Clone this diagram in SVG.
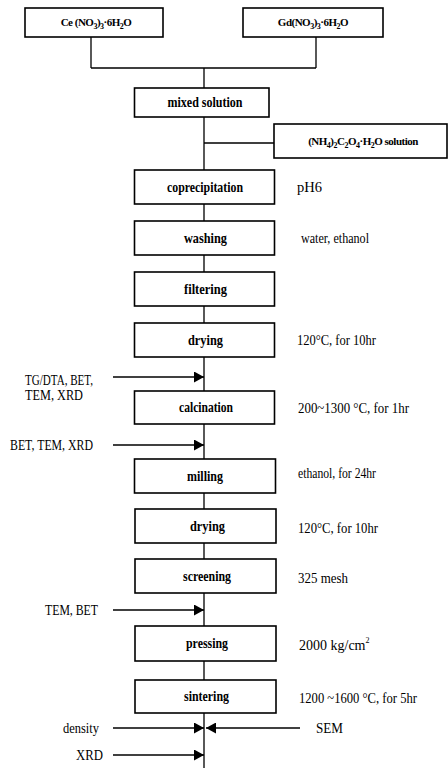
<svg xmlns="http://www.w3.org/2000/svg" width="448" height="768" viewBox="0 0 448 768">
<defs>
<style>
.box{fill:#fff;stroke:#000;stroke-width:1.6}
.ln{fill:none;stroke:#000;stroke-width:1.3}
.bt{font-family:"Liberation Serif",serif;font-weight:bold;font-size:14px;text-anchor:middle;fill:#000}
.ft{font-family:"Liberation Serif",serif;font-weight:bold;font-size:11px;text-anchor:middle;fill:#000;letter-spacing:-0.5px}
.st{font-family:"Liberation Serif",serif;font-size:14px;fill:#000}
.sb{font-size:8px}
</style>
<marker id="ah" markerUnits="userSpaceOnUse" markerWidth="10" markerHeight="11" refX="10" refY="5.5" orient="auto">
<path d="M0,0 L10,5.5 L0,11 Z" fill="#000"/>
</marker>
</defs>
<rect width="448" height="768" fill="#fff"/>
<g id="connectors">
<path class="ln" d="M91,37 V68 M316,37 V68 M91,68 H316 M204,68 V88"/>
<path class="ln" d="M204,117 V170 M204,143 H274"/>
<path class="ln" d="M204,204 V221 M204,255 V272 M204,306 V323 M204,357 V391 M204,424 V459 M204,493 V509 M204,543 V559 M204,593 V626 M204,661 V680 M204,713 V768"/>
<line class="ln" x1="113" y1="377" x2="204" y2="377" marker-end="url(#ah)"/>
<line class="ln" x1="113" y1="445" x2="204" y2="445" marker-end="url(#ah)"/>
<line class="ln" x1="113" y1="610" x2="204" y2="610" marker-end="url(#ah)"/>
<line class="ln" x1="113" y1="728" x2="204" y2="728" marker-end="url(#ah)"/>
<line class="ln" x1="300" y1="728" x2="206" y2="728" marker-end="url(#ah)"/>
<line class="ln" x1="113" y1="755" x2="204" y2="755" marker-end="url(#ah)"/>
</g>
<g id="ce">
<rect class="box" x="25" y="8" width="138" height="29"/>
<text class="ft" x="96" y="26">Ce (NO<tspan class="sb" baseline-shift="-3">3</tspan>)<tspan class="sb" baseline-shift="-3">3</tspan>·6H<tspan class="sb" baseline-shift="-3">2</tspan>O</text>
</g>
<g id="gd">
<rect class="box" x="243" y="8" width="140" height="29"/>
<text class="ft" x="313" y="26">Gd(NO<tspan class="sb" baseline-shift="-3">3</tspan>)<tspan class="sb" baseline-shift="-3">3</tspan>·6H<tspan class="sb" baseline-shift="-3">2</tspan>O</text>
</g>
<g id="mixed">
<rect class="box" x="134.5" y="88" width="134.5" height="29"/>
<text class="bt" x="205" y="107" textLength="75" lengthAdjust="spacingAndGlyphs">mixed solution</text>
</g>
<g id="oxalate">
<rect class="box" x="274" y="124" width="173" height="34"/>
<text class="ft" x="363" y="145">(NH<tspan class="sb" baseline-shift="-3">4</tspan>)<tspan class="sb" baseline-shift="-3">2</tspan>C<tspan class="sb" baseline-shift="-3">2</tspan>O<tspan class="sb" baseline-shift="-3">4</tspan>·H<tspan class="sb" baseline-shift="-3">2</tspan>O solution</text>
</g>
<g id="coprecipitation">
<rect class="box" x="134.5" y="170" width="140" height="34"/>
<text class="bt" x="205" y="192" textLength="76" lengthAdjust="spacingAndGlyphs">coprecipitation</text>
<text class="st" x="297" y="192" textLength="25" lengthAdjust="spacingAndGlyphs">pH6</text>
</g>
<g id="washing">
<rect class="box" x="134.5" y="221" width="140" height="34"/>
<text class="bt" x="205.5" y="243" textLength="43" lengthAdjust="spacingAndGlyphs">washing</text>
<text class="st" x="301" y="243" textLength="68" lengthAdjust="spacingAndGlyphs">water, ethanol</text>
</g>
<g id="filtering">
<rect class="box" x="134.5" y="272" width="140" height="34"/>
<text class="bt" x="205.5" y="294" textLength="43" lengthAdjust="spacingAndGlyphs">filtering</text>
</g>
<g id="drying1">
<rect class="box" x="134.5" y="323" width="140" height="34"/>
<text class="bt" x="205.5" y="345" textLength="35" lengthAdjust="spacingAndGlyphs">drying</text>
<text class="st" x="297" y="345" textLength="79" lengthAdjust="spacingAndGlyphs">120°C, for 10hr</text>
</g>
<g id="tg">
<text class="st" x="25" y="385" textLength="68" lengthAdjust="spacingAndGlyphs">TG/DTA, BET,</text>
<text class="st" x="25" y="400" textLength="58" lengthAdjust="spacingAndGlyphs">TEM, XRD</text>
</g>
<g id="calcination">
<rect class="box" x="134.5" y="391" width="140" height="33"/>
<text class="bt" x="206" y="412" textLength="54" lengthAdjust="spacingAndGlyphs">calcination</text>
<text class="st" x="298" y="413" textLength="111" lengthAdjust="spacingAndGlyphs">200~1300 °C, for 1hr</text>
</g>
<g id="bettemxrd">
<text class="st" x="10" y="450" textLength="83" lengthAdjust="spacingAndGlyphs">BET, TEM, XRD</text>
</g>
<g id="milling">
<rect class="box" x="134.5" y="459" width="141" height="34"/>
<text class="bt" x="205" y="481" textLength="36" lengthAdjust="spacingAndGlyphs">milling</text>
<text class="st" x="298" y="478" textLength="78" lengthAdjust="spacingAndGlyphs">ethanol, for 24hr</text>
</g>
<g id="drying2">
<rect class="box" x="135" y="509" width="141" height="34"/>
<text class="bt" x="207.5" y="531" textLength="35" lengthAdjust="spacingAndGlyphs">drying</text>
<text class="st" x="298" y="533" textLength="80" lengthAdjust="spacingAndGlyphs">120°C, for 10hr</text>
</g>
<g id="screening">
<rect class="box" x="135" y="559" width="141" height="34"/>
<text class="bt" x="207" y="581" textLength="48" lengthAdjust="spacingAndGlyphs">screening</text>
<text class="st" x="298" y="583" textLength="50" lengthAdjust="spacingAndGlyphs">325 mesh</text>
</g>
<g id="tembet">
<text class="st" x="45" y="615" textLength="53" lengthAdjust="spacingAndGlyphs">TEM, BET</text>
</g>
<g id="pressing">
<rect class="box" x="135" y="626" width="141" height="35"/>
<text class="bt" x="207" y="648" textLength="42" lengthAdjust="spacingAndGlyphs">pressing</text>
<text class="st" x="299" y="650">2000 kg/cm<tspan class="sb" baseline-shift="7">2</tspan></text>
</g>
<g id="sintering">
<rect class="box" x="135" y="680" width="141" height="33"/>
<text class="bt" x="206.5" y="701" textLength="45" lengthAdjust="spacingAndGlyphs">sintering</text>
<text class="st" x="299" y="703" textLength="118" lengthAdjust="spacingAndGlyphs">1200 ~1600 °C, for 5hr</text>
</g>
<g id="density">
<text class="st" x="63" y="733" textLength="36" lengthAdjust="spacingAndGlyphs">density</text>
</g>
<g id="sem">
<text class="st" x="316" y="733" textLength="27" lengthAdjust="spacingAndGlyphs">SEM</text>
</g>
<g id="xrd">
<text class="st" x="76" y="760" textLength="27" lengthAdjust="spacingAndGlyphs">XRD</text>
</g>
</svg>
